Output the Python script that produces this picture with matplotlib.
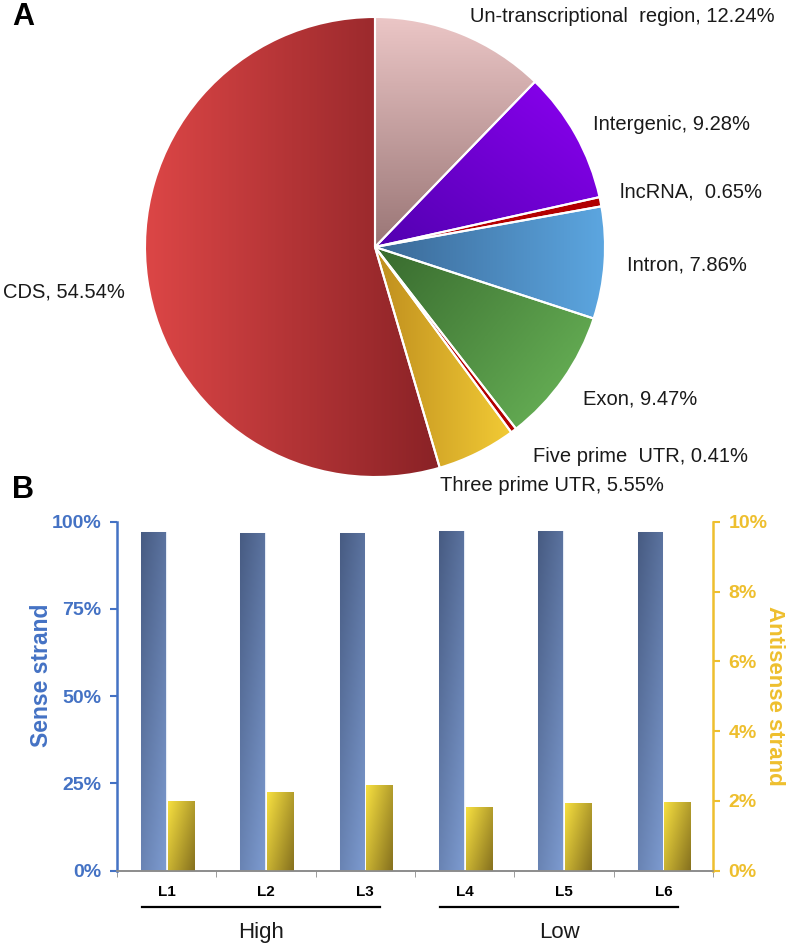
import numpy as np
import matplotlib
matplotlib.use("Agg")
import matplotlib.pyplot as plt
from matplotlib.colors import LinearSegmentedColormap
from matplotlib.patches import Wedge

plt.rcParams['font.family'] = ['Liberation Sans', 'DejaVu Sans']

# ---- data: panel A (clockwise from 12 o'clock) ----
pie_labels = ['Un-transcriptional  region, 12.24%', 'Intergenic, 9.28%', 'lncRNA,  0.65%',
              'Intron, 7.86%', 'Exon, 9.47%', 'Five prime  UTR, 0.41%',
              'Three prime UTR, 5.55%', 'CDS, 54.54%']
pie_values = [12.24, 9.28, 0.65, 7.86, 9.47, 0.41, 5.55, 54.54]

# ---- data: panel B ----
libs = ['L1', 'L2', 'L3', 'L4', 'L5', 'L6']
sense = [97.1, 96.8, 96.8, 97.4, 97.4, 97.1]        # %
antisense = [2.01, 2.25, 2.46, 1.82, 1.95, 1.98]    # %
groups = ['High', 'Low']
group_members = [[0, 1, 2], [3, 4, 5]]

W, H = 789, 950
fig = plt.figure(figsize=(W / 100, H / 100), dpi=100)


def px(x, y):
    return x / W, 1 - y / H


def grad_fill(ax, patch, c0, c1, angle, extent=None):
    """paint a linear gradient (c0 -> c1 along angle) clipped to a patch"""
    if extent is None:
        bb = patch.get_path().get_extents()
        extent = [bb.x0, bb.x1, bb.y0, bb.y1]
    n = 120
    X, Y = np.meshgrid(np.linspace(0, 1, n), np.linspace(0, 1, n))
    a = np.deg2rad(angle)
    d = X * np.cos(a) + Y * np.sin(a)
    d = (d - d.min()) / (d.max() - d.min())
    cmap = LinearSegmentedColormap.from_list('g', [c0, c1])
    im = ax.imshow(d, cmap=cmap, extent=extent, origin='lower', aspect='auto',
                   interpolation='bilinear', zorder=patch.get_zorder() + 0.1)
    im.set_clip_path(patch)
    return im


# ================= Panel A: pie =================
r_px = 230
cx, cy = 375, 247
axp = fig.add_axes([(cx - 1.1 * r_px) / W, 1 - (cy + 1.1 * r_px) / H,
                    2.2 * r_px / W, 2.2 * r_px / H])
wedges, _ = axp.pie(pie_values, startangle=90, counterclock=False,
                    wedgeprops=dict(edgecolor='white', linewidth=1.5))
axp.set_xlim(-1.1, 1.1)
axp.set_ylim(-1.1, 1.1)
axp.set_aspect('auto')
axp.axis('off')

grads = [('#ebc6c6', '#9a7676', -90),
         ('#8c00f2', '#5200b0', 225),
         ('#c00000', '#b00000', 0),
         ('#3a6896', '#5ca6e0', 0),
         ('#386a2e', '#6cb85a', -35),
         ('#c00000', '#b00000', 0),
         ('#bf8e1e', '#f2cb35', 0),
         ('#dc4646', '#8a2226', 0)]
for w, (c0, c1, ang) in zip(wedges, grads):
    w.set_facecolor(c0)
    w.set_zorder(1)
    grad_fill(axp, w, c0, c1, ang)
    # white slice border on top of the gradient
    axp.add_patch(Wedge(w.center, w.r, w.theta1, w.theta2, fill=False,
                        edgecolor='white', linewidth=1.5, zorder=3))

label_pos = [(470, 17), (593, 125), (620, 192), (627, 265), (583, 399),
             (533, 457), (440, 485), (3, 292)]
for txt, (x, y) in zip(pie_labels, label_pos):
    fig.text(*px(x, y), txt, fontsize=14.5, ha='left', va='center', color='#1a1a1a')

fig.text(*px(12, 17), 'A', fontsize=22, fontweight='bold', ha='left', va='center')
fig.text(*px(12, 490), 'B', fontsize=22, fontweight='bold', ha='left', va='center')

# ================= Panel B: bars =================
blue = '#4472c4'
gold = '#eebf2e'
x0, x1, y0, y1 = 117, 713, 521.7, 870.7
ax = fig.add_axes([x0 / W, 1 - y1 / H, (x1 - x0) / W, (y1 - y0) / H])
ax2 = ax.twinx()

xs = np.arange(len(libs))
bars_s = ax.bar(xs - 0.135, sense, width=0.25, color='#5b74a4',
                edgecolor='#e4ebf5', linewidth=0.8, zorder=2)
bars_a = ax2.bar(xs + 0.145, antisense, width=0.27, color='#d9bb2c',
                 edgecolor='none', zorder=2)

ax.set_xlim(-0.5, 5.5)
ax.set_ylim(0, 100)
ax2.set_ylim(0, 10)
for b in bars_s:
    grad_fill(ax, b, '#475b82', '#7d9bd0', -60,
              extent=[b.get_x(), b.get_x() + b.get_width(), 0, b.get_height()])
for b in bars_a:
    grad_fill(ax2, b, '#f7e040', '#85701e', -35,
              extent=[b.get_x(), b.get_x() + b.get_width(), 0, b.get_height()])
ax.set_xlim(-0.5, 5.5)
ax.set_ylim(0, 100)
ax2.set_ylim(0, 10)

ax.set_yticks([0, 25, 50, 75, 100])
ax.set_yticklabels(['0%', '25%', '50%', '75%', '100%'])
ax2.set_yticks([0, 2, 4, 6, 8, 10])
ax2.set_yticklabels(['0%', '2%', '4%', '6%', '8%', '10%'])
ax.tick_params(axis='y', colors=blue, labelsize=14, length=5, width=1.5, pad=6)
ax2.tick_params(axis='y', colors=gold, labelsize=14, length=5, width=1.5, pad=6)
for lab in ax.get_yticklabels() + ax2.get_yticklabels():
    lab.set_fontweight('bold')

ax.set_xticks(xs)
ax.set_xticklabels(libs, fontsize=11, fontweight='bold')
ax.set_xticks(np.arange(-0.5, 6.0, 1.0), minor=True)
ax.tick_params(axis='x', which='major', length=0, pad=10)
ax.tick_params(axis='x', which='minor', length=4, color='#8c8c8c')

for a in (ax, ax2):
    a.spines['top'].set_visible(False)
    a.spines['bottom'].set_color('#8c8c8c')
    a.spines['bottom'].set_linewidth(1.2)
ax2.spines['left'].set_visible(False)
ax.spines['right'].set_visible(False)
ax.spines['left'].set_color(blue)
ax.spines['left'].set_linewidth(1.8)
ax2.spines['right'].set_color(gold)
ax2.spines['right'].set_linewidth(1.8)

ax.set_ylabel('Sense strand', color=blue, fontsize=16.5, fontweight='bold')
ax.yaxis.set_label_coords(-0.108, 0.56)
ax2.set_ylabel('Antisense strand', color=gold, fontsize=16, fontweight='bold',
               rotation=270, va='center')
ax2.yaxis.set_label_coords(1.104, 0.5)

# group underlines and labels
tr = ax.get_xaxis_transform()
for g, members in zip(groups, group_members):
    xa, xb = members[0] - 0.25, members[-1] + 0.15
    ax.plot([xa, xb], [-0.103, -0.103], color='black', lw=1.6,
            transform=tr, clip_on=False)
    ax.text((xa + xb) / 2, -0.178, g, fontsize=16, ha='center', va='center',
            transform=tr, color='#1a1a1a')

fig.savefig('out.png', dpi=100)
